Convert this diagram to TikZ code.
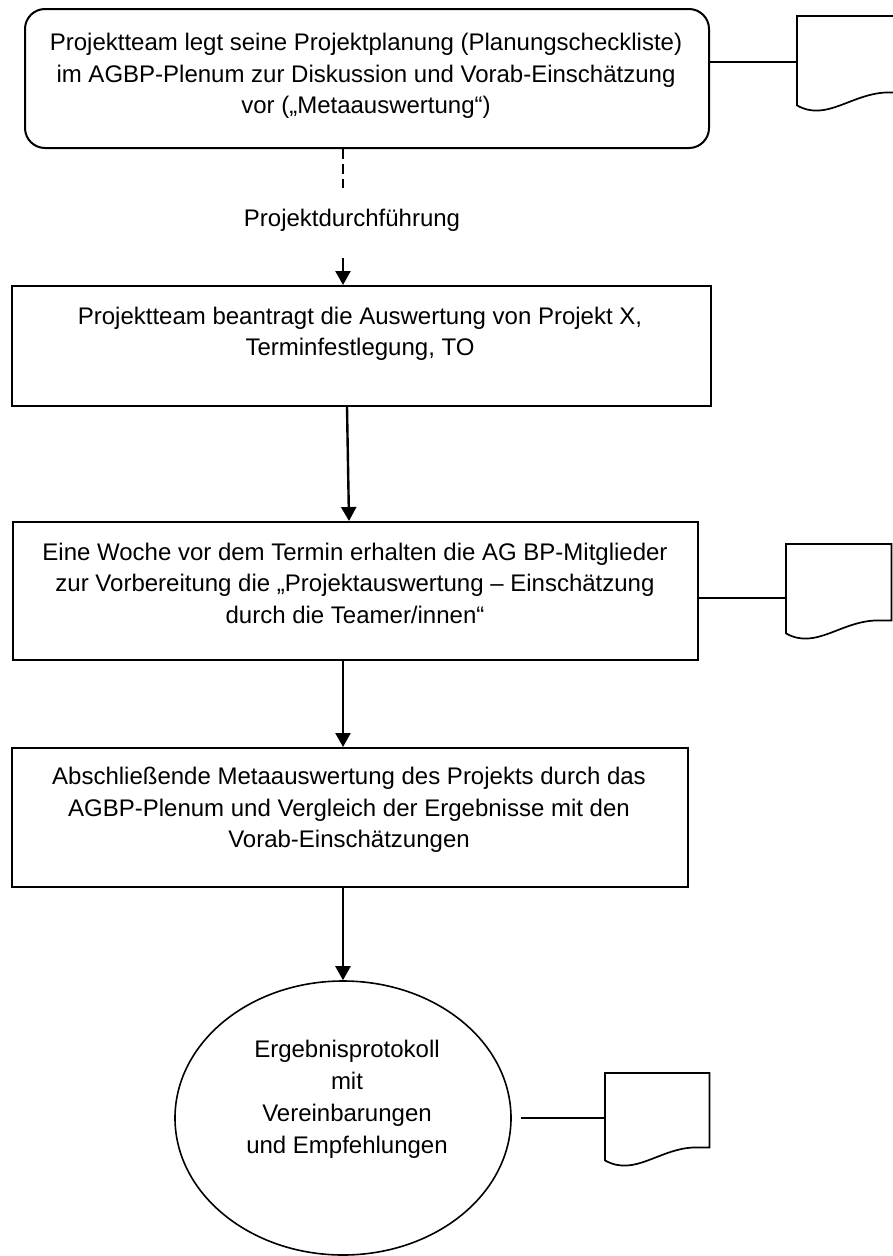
\documentclass[tikz,border=0pt]{standalone}
\usepackage{fontspec}
\setmainfont{Liberation Sans}
\usetikzlibrary{arrows.meta,shapes.geometric}
\tikzset{
  box/.style={draw, line width=2pt, inner sep=0pt, anchor=north west},
  txt/.style={align=center, font=\fontsize{24}{31.5}\selectfont, inner sep=0pt},
  docbox/.style={inner sep=0pt, anchor=north west, minimum width=105pt, minimum height=89pt},
  docline/.style={line width=1.7pt, line join=miter},
  link/.style={line width=1.7pt},
  flow/.style={line width=2.4pt, -{Triangle[length=14pt,width=15pt]}},
  dashflow/.style={line width=2.6pt, dash pattern=on 10pt off 5pt}
}
\newcommand{\docpath}[1]{%
  \draw[docline] (#1.north west) -- (#1.north east) -- ([yshift=13pt]#1.south east)
    -- ([xshift=-13pt,yshift=13pt]#1.south east)
    .. controls ([xshift=55pt,yshift=13pt]#1.south west) and ([xshift=30pt,yshift=-17pt]#1.south west)
    .. (#1.south west) -- cycle;}
\begin{document}
\begin{tikzpicture}[x=1pt,y=-1pt]
\useasboundingbox[fill=white] (0,0) rectangle (893,1256);
% boxes
\node[box, rounded corners=20pt, minimum width=684pt, minimum height=139pt] (b1) at (24,8) {};
\node[box, minimum width=699pt, minimum height=120pt] (b2) at (11,285) {};
\node[box, minimum width=685pt, minimum height=138pt] (b3) at (12,521) {};
\node[box, minimum width=676pt, minimum height=139pt] (b4) at (11,747) {};
\node[draw, ellipse, line width=1.6pt, inner sep=0pt, minimum width=336pt, minimum height=274pt] (e) at (343,1118) {};
% texts
\node[txt] (t1) at (366,76) {Projektteam legt seine Projektplanung (Planungscheckliste)\\im AGBP-Plenum zur Diskussion und Vorab-Einschätzung\\vor („Metaauswertung“)};
\node[txt] (t2) at (360,334) {Projektteam beantragt die Auswertung von Projekt X,\\Terminfestlegung, TO};
\node[txt] (t3) at (355,583) {Eine Woche vor dem Termin erhalten die AG BP-Mitglieder\\zur Vorbereitung die „Projektauswertung – Einschätzung\\durch die Teamer/innen“};
\node[txt] (t4) at (349,810) {Abschließende Metaauswertung des Projekts durch das\\AGBP-Plenum und Vergleich der Ergebnisse mit den\\Vorab-Einschätzungen};
\node[txt, font=\fontsize{24}{32}\selectfont] (t5) at (347,1099) {Ergebnisprotokoll\\mit\\Vereinbarungen\\und Empfehlungen};
\node[txt] (lbl) at (352,220) {Projektdurchführung};
% documents
\node[docbox] (d1) at (797,16) {};
\node[docbox] (d2) at (786,544) {};
\node[docbox, minimum width=104pt, minimum height=87pt] (d3) at (605,1073) {};
\docpath{d1}
\docpath{d2}
\docpath{d3}
% connectors
\coordinate (c1) at (0,62);
\coordinate (c2) at (0,598);
\draw[link] (b1.east |- c1) -- (d1.west |- c1);
\draw[link] (b3.east |- c2) -- (d2.west |- c2);
\draw[link] ([xshift=9pt]e.east) -- (d3.west |- e.east);
% flow
\coordinate (a0) at (343,188);
\coordinate (a1) at (343,258);
\draw[dashflow] (b1.south -| a0) -- (a0);
\draw[flow] (a1) -- (b2.north -| a1);
\draw[flow] ([xshift=-14.5pt]b2.south) -- ([xshift=-6.5pt]b3.north);
\draw[flow] (b3.south -| a0) -- (b4.north -| a0);
\draw[flow] (b4.south -| a0) -- (e.north);
\end{tikzpicture}
\end{document}
